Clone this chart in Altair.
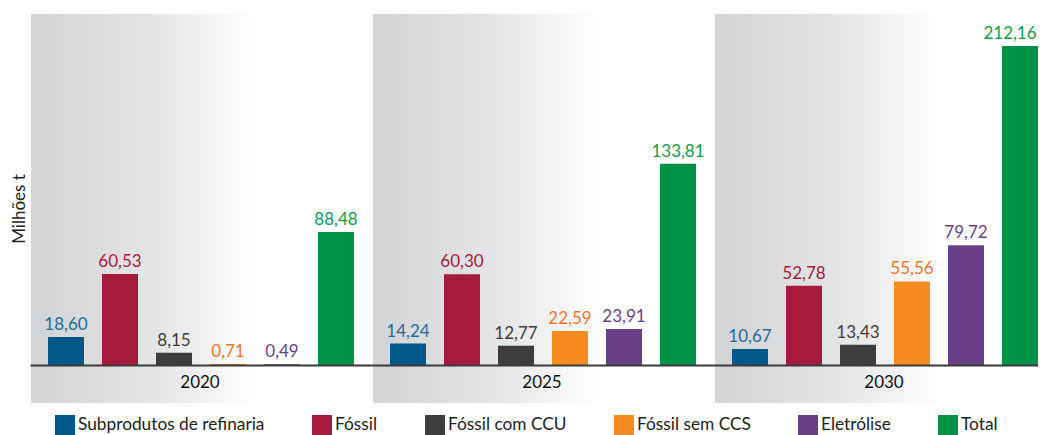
import altair as alt
import pandas as pd

years = ["2020", "2025", "2030"]
categories = ["Subprodutos de refinaria", "Fóssil", "Fóssil com CCU",
              "Fóssil sem CCS", "Eletrólise", "Total"]
values_2020 = [18.60, 60.53, 8.15, 0.71, 0.49, 88.48]
values_2025 = [14.24, 60.30, 12.77, 22.59, 23.91, 133.81]
values_2030 = [10.67, 52.78, 13.43, 55.56, 79.72, 212.16]

bar_colors = ["#00578a", "#a61a3b", "#3d3d3d", "#f68b1f", "#6a3f87", "#009348"]
text_colors = ["#1f6c99", "#a61a3b", "#3d3d3d", "#f3742a", "#6a3f87", "#0f9a4f"]

rows = []
for y, vals in zip(years, [values_2020, values_2025, values_2030]):
    for c, v in zip(categories, vals):
        rows.append({"year": y, "cat": c, "v": v})
df = pd.DataFrame(rows)
bg = pd.DataFrame({"year": years})

FONT = "Lato"
W, H = 1008, 389
Y_MIN, Y_MAX = -25.27, 233.44

# group step 342 px, group band 324 px
xscale = alt.Scale(domain=years, paddingInner=18 / 342, paddingOuter=0)
yscale = alt.Scale(domain=[Y_MIN, Y_MAX], nice=False, zero=False)
# bar step 54 px, bar width 36 px, first bar 18 px into the group
xoff = alt.XOffset("cat:N", sort=categories,
                   scale=alt.Scale(domain=categories, paddingInner=1 / 3,
                                   paddingOuter=1 / 6, align=1))

gradient = alt.Gradient(
    gradient="linear",
    stops=[alt.GradientStop(color="#d2d3d5", offset=0),
           alt.GradientStop(color="#e5e6e8", offset=0.4),
           alt.GradientStop(color="#ffffff", offset=0.70),
           alt.GradientStop(color="#ffffff", offset=1)],
    x1=0, x2=1, y1=0, y2=0)

background = alt.Chart(bg).mark_rect(color=gradient, xOffset=1).encode(
    x=alt.X("year:N", scale=xscale,
            axis=alt.Axis(title=None, orient="bottom", offset=-38, ticks=False,
                          domainColor="#3a3a3a", domainWidth=2, labelAngle=0,
                          labelFont=FONT, labelFontSize=17, labelColor="#111111",
                          labelPadding=9, labelOffset=8, zindex=1, grid=False)),
    y=alt.value(0),
    y2=alt.value(H),
)

bars = alt.Chart(df).mark_bar().encode(
    x=alt.X("year:N", scale=xscale),
    xOffset=xoff,
    y=alt.Y("v:Q", scale=yscale,
            axis=alt.Axis(title="Milhões t", labels=False, ticks=False, domain=False,
                          grid=False, titleFont=FONT, titleFontSize=17,
                          titleFontWeight="normal", titleColor="#222222",
                          titleBaseline="alphabetic", titlePadding=6)),
    y2=alt.datum(0),
    color=alt.Color("cat:N", sort=categories,
                    scale=alt.Scale(domain=categories, range=bar_colors),
                    legend=alt.Legend(title=None, orient="none", direction="horizontal",
                                      legendX=25, legendY=401, symbolType="square",
                                      symbolSize=400, symbolStrokeWidth=0,
                                      symbolOpacity=1, labelFont=FONT,
                                      labelFontSize=17.3, labelColor="#222222",
                                      labelOffset=3, columnPadding=47, padding=0,
                                      labelLimit=400)),
)

label_base = alt.Chart(df).transform_calculate(
    lab="replace(format(datum.v, '.2f'), '.', ',')",
    edge="datum.year == '2030' && datum.cat == 'Total'",
)
label_enc = dict(
    x=alt.X("year:N", scale=xscale),
    xOffset=xoff,
    y=alt.Y("v:Q", scale=yscale),
    text="lab:N",
    color=alt.Color("cat:N", sort=categories,
                    scale=alt.Scale(domain=categories, range=text_colors),
                    legend=None),
)
labels = label_base.transform_filter("!datum.edge").mark_text(
    font=FONT, fontSize=17, baseline="alphabetic", dy=-7).encode(**label_enc)
labels_edge = label_base.transform_filter("datum.edge").mark_text(
    font=FONT, fontSize=17, baseline="alphabetic", dy=-7, dx=-10).encode(**label_enc)

chart = alt.layer(background, bars, labels, labels_edge).resolve_scale(
    color="independent"
).properties(
    width=W, height=H,
    autosize=alt.AutoSizeParams(type="none"),
    padding={"left": 22, "top": 6, "right": 0, "bottom": 42},
).configure_view(stroke=None)

chart.save("out.html", embed_options={"renderer": "svg", "actions": False})
